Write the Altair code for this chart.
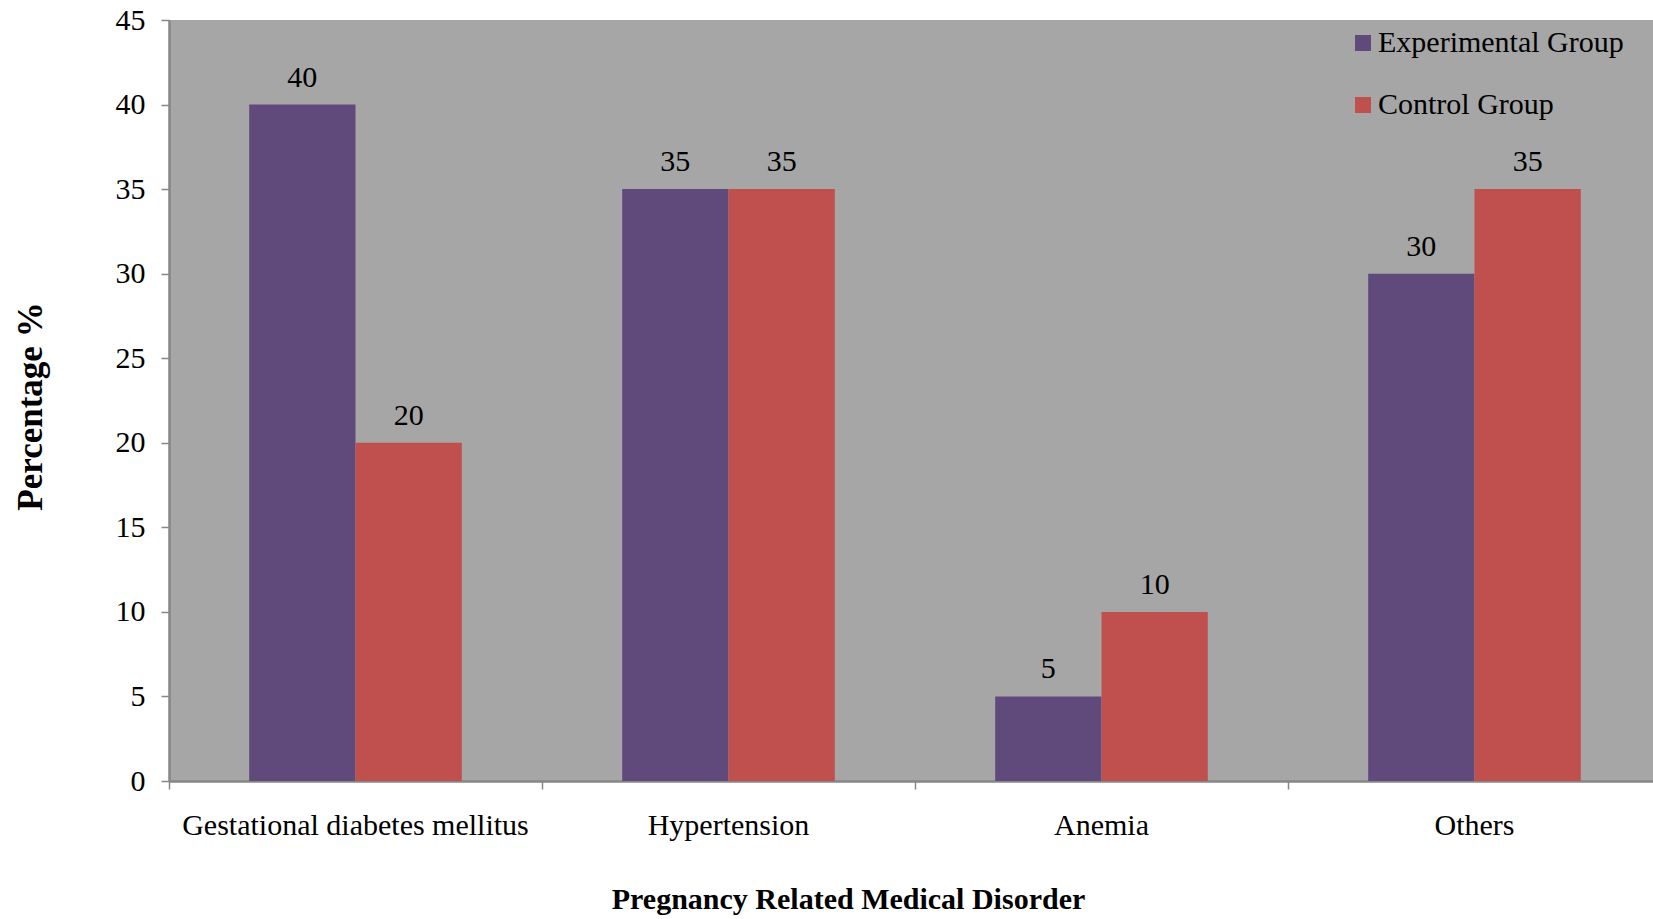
import altair as alt
import pandas as pd

categories = ["Gestational diabetes mellitus", "Hypertension", "Anemia", "Others"]
groups = ["Experimental Group", "Control Group"]
experimental = [40, 35, 5, 30]
control = [20, 35, 10, 35]
y_ticks = [0, 5, 10, 15, 20, 25, 30, 35, 40, 45]

rows = []
for cat, e, c in zip(categories, experimental, control):
    rows.append({"disorder": cat, "group": groups[0], "pct": e})
    rows.append({"disorder": cat, "group": groups[1], "pct": c})
df = pd.DataFrame(rows)

FONT = "Liberation Serif"
AXIS_GRAY = "#868686"
PAD_INNER = 0.43
PAD_OUTER = PAD_INNER / 2
# ticks sit on the category boundaries, halfway between bar groups
TICK_POS = -PAD_OUTER / (1 - PAD_INNER)

x = alt.X(
    "disorder:N",
    sort=categories,
    scale=alt.Scale(paddingInner=PAD_INNER, paddingOuter=PAD_OUTER, range=[0, 1492]),
    axis=alt.Axis(
        title="Pregnancy Related Medical Disorder",
        titleFont=FONT, titleFontSize=30, titleFontWeight="bold", titleColor="black",
        titleX=679, titleY=118, titleAlign="center", titleBaseline="middle", titleAnchor=None,
        labelFont=FONT, labelFontSize=30, labelColor="black", labelAngle=0,
        labelPadding=36, labelBaseline="middle", labelLimit=0,
        bandPosition=TICK_POS, tickSize=8, tickColor=AXIS_GRAY, tickWidth=1.5,
        domainColor=AXIS_GRAY, domainWidth=2.5,
    ),
)
xo = alt.XOffset("group:N", sort=groups, scale=alt.Scale(paddingInner=0, paddingOuter=0))
y = alt.Y(
    "pct:Q",
    scale=alt.Scale(domain=[0, 45], nice=False),
    axis=alt.Axis(
        values=y_ticks, grid=False,
        title="Percentage %",
        titleFont=FONT, titleFontSize=35, titleFontWeight="bold", titleColor="black",
        titleX=-139, titleY=386, titleAlign="center", titleBaseline="middle", titleAngle=270,
        labelFont=FONT, labelFontSize=30, labelColor="black", labelPadding=16,
        tickSize=8, tickColor=AXIS_GRAY, tickWidth=1.5,
        domainColor=AXIS_GRAY, domainWidth=2.5,
    ),
)
color = alt.Color(
    "group:N",
    sort=groups,
    scale=alt.Scale(domain=groups, range=["#604A7B", "#C0504D"]),
    legend=alt.Legend(
        title=None, orient="none", legendX=1179, legendY=8,
        symbolType="square", symbolSize=256, symbolStrokeWidth=0,
        labelFont=FONT, labelFontSize=30, labelColor="black", labelLimit=0,
        rowPadding=32, labelOffset=0,
    ),
)

bars = alt.Chart(df).mark_bar(stroke=None).encode(x=x, xOffset=xo, y=y, color=color)

labels = alt.Chart(df).mark_text(
    font=FONT, fontSize=30, color="black", baseline="alphabetic", dy=-18
).encode(x=x, xOffset=xo, y=y, text="pct:Q")

chart = (
    (bars + labels)
    .properties(
        width=1484,
        height=761,
        autosize=alt.AutoSizeParams(type="none"),
        padding={"left": 169, "top": 20, "right": 0, "bottom": 138},
    )
    .configure(
        background="white",
        view=alt.ViewConfig(fill="#A6A6A6", stroke=None),
    )
)

chart.save("out.html", embed_options={"renderer": "svg", "actions": False})
